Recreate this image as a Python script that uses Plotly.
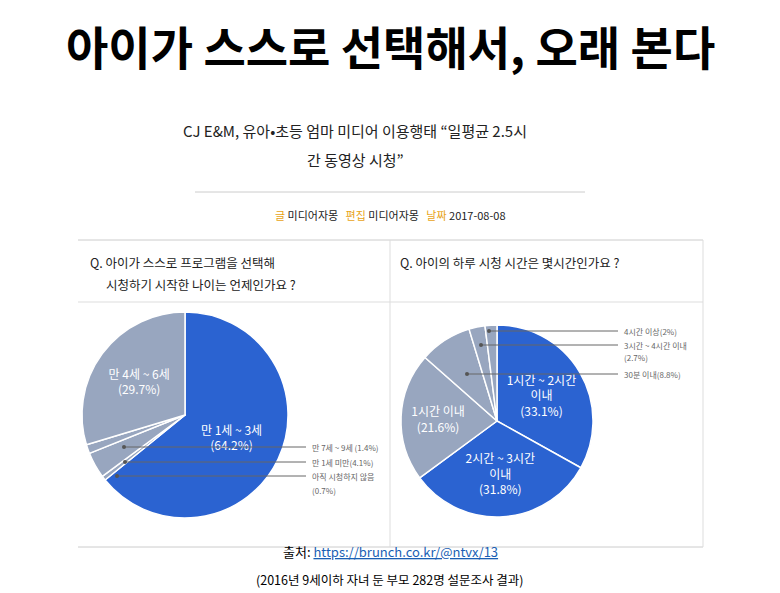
import plotly.graph_objects as go

age_labels = ["만 1세 ~ 3세", "아직 시청하지 않음", "만 1세 미만", "만 7세 ~ 9세", "만 4세 ~ 6세"]
age_values = [64.2, 0.7, 4.1, 1.4, 29.7]
age_text = ["만 1세 ~ 3세<br>(64.2%)", "", "", "", "만 4세 ~ 6세<br>(29.7%)"]
age_colors = ["#2b63d1", "#98a6bf", "#98a6bf", "#98a6bf", "#98a6bf"]

time_labels = ["1시간 ~ 2시간 이내", "2시간 ~ 3시간 이내", "1시간 이내", "30분 이내", "3시간 ~ 4시간 이내", "4시간 이상"]
time_values = [33.1, 31.8, 21.6, 8.8, 2.7, 2.0]
time_text = ["1시간 ~ 2시간<br>이내<br>(33.1%)", "2시간 ~ 3시간<br>이내<br>(31.8%)", "1시간 이내<br>(21.6%)", "", "", ""]
time_colors = ["#2b63d1", "#2b63d1", "#98a6bf", "#98a6bf", "#98a6bf", "#98a6bf"]

# page body has an 8px margin, so the figure starts at (8, 8)
W, H = 772, 585
def px(x): return (x - 8) / W
def py(y): return 1 - (y - 8) / H

fig = go.Figure()
fig.add_trace(go.Pie(values=age_values, labels=age_labels, text=age_text, textinfo="text",
                     sort=False, direction="clockwise", rotation=0,
                     marker=dict(colors=age_colors, line=dict(color="white", width=1.5)),
                     textfont=dict(color="white", size=12), insidetextorientation="horizontal",
                     domain=dict(x=[px(82), px(288)], y=[py(518), py(312)]), showlegend=False))
fig.add_trace(go.Pie(values=time_values, labels=time_labels, text=time_text, textinfo="text",
                     sort=False, direction="clockwise", rotation=0,
                     marker=dict(colors=time_colors, line=dict(color="white", width=1.5)),
                     textfont=dict(color="white", size=12), insidetextorientation="horizontal",
                     domain=dict(x=[px(401), px(593)], y=[py(517), py(325)]), showlegend=False))

font = "Noto Sans CJK KR"
ann = []
def text(x, y, s, size, color="#222", anchor="center", bold=False):
    ann.append(dict(x=px(x), y=py(y), xref="paper", yref="paper", text=f"<b>{s}</b>" if bold else s,
                    showarrow=False, xanchor=anchor, yanchor="middle", align="left",
                    font=dict(size=size, color=color, family=font)))

text(390, 45, "아이가 스스로 선택해서, 오래 본다", 46, "#000", bold=True)
text(355, 130, "CJ E&M, 유아•초등 엄마 미디어 이용행태 “일평균 2.5시", 15)
text(355, 160, "간 동영상 시청”", 15)
ann.append(dict(x=px(390), y=py(215), xref="paper", yref="paper", showarrow=False,
                text="<span style='color:#e8a317'>글</span> 미디어자몽   <span style='color:#e8a317'>편집</span> 미디어자몽   <span style='color:#e8a317'>날짜</span> 2017-08-08",
                font=dict(size=11, color="#222", family=font)))
text(88, 262, "Q. 아이가 스스로 프로그램을 선택해", 12.5, anchor="left")
text(104, 284, "시청하기 시작한 나이는 언제인가요 ?", 12.5, anchor="left")
text(398, 262, "Q. 아이의 하루 시청 시간은 몇시간인가요 ?", 12.5, anchor="left")
text(310, 447, "만 7세 ~ 9세 (1.4%)", 8, "#666", "left")
text(310, 462, "만 1세 미만(4.1%)", 8, "#666", "left")
text(310, 476, "아직 시청하지 않음", 8, "#666", "left")
text(310, 490, "(0.7%)", 8, "#666", "left")
text(622, 331, "4시간 이상(2%)", 8, "#666", "left")
text(622, 345, "3시간 ~ 4시간 이내", 8, "#666", "left")
text(622, 357, "(2.7%)", 8, "#666", "left")
text(622, 374, "30분 이내(8.8%)", 8, "#666", "left")
ann.append(dict(x=px(390), y=py(563), xref="paper", yref="paper", showarrow=False,
                text="출처: <span style='color:#1a5fb4'><u>https://brunch.co.kr/@ntvx/13</u></span>",
                font=dict(size=13, color="#000", family=font)))
text(390, 579, "(2016년 9세이하 자녀 둔 부모 282명 설문조사 결과)", 12.5, "#000")

shapes = []
def line(x0, y0, x1, y1, color="#999", w=1):
    shapes.append(dict(type="line", xref="paper", yref="paper", x0=px(x0), y0=py(y0), x1=px(x1), y1=py(y1),
                       line=dict(color=color, width=w)))
line(195, 192, 585, 192, "#ccc")
line(78, 240, 703, 240, "#ccc")
line(78, 302, 703, 302, "#ddd")
line(78, 547, 703, 547, "#ccc")
line(390, 240, 390, 547, "#ddd")
line(703, 240, 703, 547, "#ddd")
line(124, 447, 306, 447, "#666")
line(125, 462, 306, 462, "#666")
line(117, 476, 306, 476, "#666")
line(489, 331, 618, 331, "#666")
line(481, 345, 618, 345, "#666")
line(467, 374, 618, 374, "#666")
for cx, cy in [(124, 447), (125, 462), (117, 476), (489, 331), (481, 345), (467, 374)]:
    shapes.append(dict(type="circle", xref="paper", yref="paper", x0=px(cx - 2), x1=px(cx + 2),
                       y0=py(cy + 2), y1=py(cy - 2), fillcolor="#555", line=dict(width=0)))

fig.update_layout(width=W, height=H, margin=dict(l=0, r=0, t=0, b=0), paper_bgcolor="white",
                  annotations=ann, shapes=shapes, font=dict(family=font))
fig.write_html("out.html")
